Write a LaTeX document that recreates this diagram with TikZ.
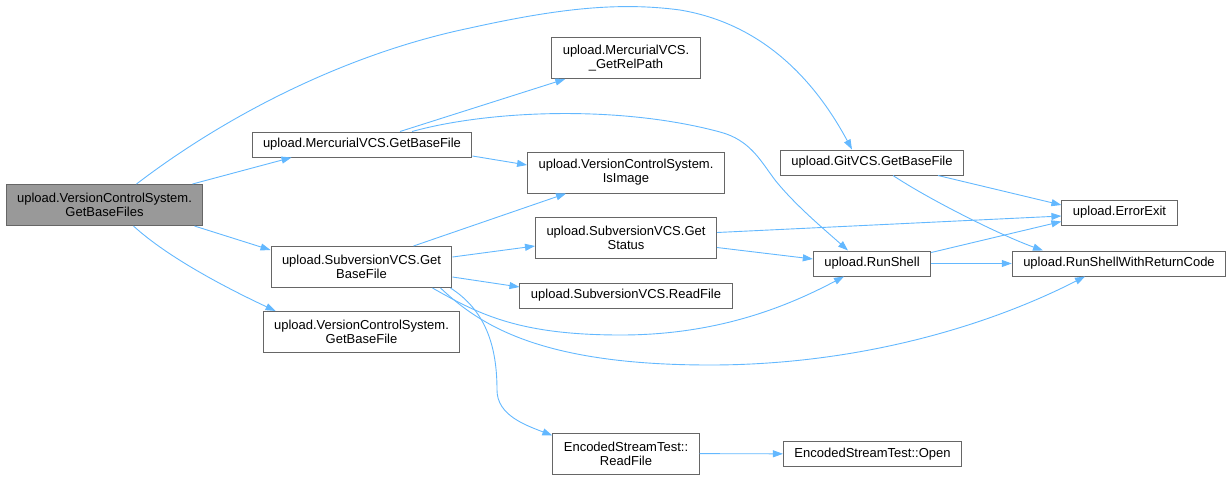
\documentclass[tikz,border=0pt]{standalone}
\usepackage{fontspec}
\setmainfont{Liberation Sans}
\usetikzlibrary{arrows.meta}

\definecolor{edgeblue}{HTML}{63B8FF}
\definecolor{boxgray}{HTML}{666666}
\definecolor{rootfill}{HTML}{999999}

\tikzset{
  fn/.style={rectangle, draw=boxgray, line width=1pt, fill=white, font=\fontsize{13}{14}\selectfont, align=center, inner xsep=11pt, inner ysep=2pt, minimum height=25pt},
  fntwo/.style={fn, minimum height=41pt},
  edge/.style={draw=edgeblue, line width=0.9pt, -{Triangle[length=10pt,width=7pt]}},
}

\begin{document}
\begin{tikzpicture}[x=1pt, y=-1pt]
  \useasboundingbox (0,0) rectangle (1231,480);

  \node[fntwo, fill=rootfill] (root) at (104.5,205) {upload.VersionControlSystem.\\GetBaseFiles};
  \node[fn] (merc) at (362,144.5) {upload.MercurialVCS.GetBaseFile};
  \node[fntwo] (svn) at (361.5,267) {upload.SubversionVCS.Get\\BaseFile};
  \node[fntwo] (vcsgbf) at (361.5,332) {upload.VersionControlSystem.\\GetBaseFile};
  \node[fntwo] (relpath) at (626,58) {upload.MercurialVCS.\\\_GetRelPath};
  \node[fntwo] (isimage) at (626,172.5) {upload.VersionControlSystem.\\IsImage};
  \node[fntwo] (status) at (626,237.5) {upload.SubversionVCS.Get\\Status};
  \node[fn] (readfile) at (626,295.5) {upload.SubversionVCS.ReadFile};
  \node[fntwo] (estread) at (626,453.5) {EncodedStreamTest::\\ReadFile};
  \node[fn] (git) at (872,162.5) {upload.GitVCS.GetBaseFile};
  \node[fn] (runshell) at (872,263.5) {upload.RunShell};
  \node[fn] (estopen) at (872.5,454) {EncodedStreamTest::Open};
  \node[fn] (errexit) at (1119.5,212.5) {upload.ErrorExit};
  \node[fn] (rswrc) at (1119,263.5) {upload.RunShellWithReturnCode};

  % calls from GetBaseFiles
  \draw[edge] ([xshift=32pt]root.north) .. controls (220,120) and (340,55) .. (470,28)
    .. controls (560,8) and (620,2) .. (680,10)
    .. controls (770,25) and (820,90) .. ([xshift=-20pt]git.north);
  \draw[edge] ([xshift=88pt]root.north) -- ([xshift=40pt]merc.south west);
  \draw[edge] ([xshift=-9pt]root.south east) -- ([yshift=17pt]svn.west);
  \draw[edge] ([xshift=29pt]root.south) .. controls (165,255) and (220,285) .. ([xshift=13pt]vcsgbf.north west);

  % MercurialVCS
  \draw[edge] ([xshift=38pt]merc.north) -- ([xshift=14pt]relpath.south west);
  \draw[edge] ([yshift=-11.5pt]merc.east) -- ([yshift=7.5pt]isimage.west);
  \draw[edge] ([xshift=50pt]merc.north) .. controls (490,110) and (620,105) .. (720,132)
    .. controls (750,140) and (760,160) .. (775,180)
    .. controls (795,205) and (825,230) .. ([xshift=-24pt]runshell.north);

  % SubversionVCS
  \draw[edge] ([xshift=52pt]svn.north) -- ([xshift=39pt]isimage.south west);
  \draw[edge] ([yshift=10pt]svn.east) -- ([yshift=-8.5pt]status.west);
  \draw[edge] ([yshift=-10pt]svn.east) -- ([yshift=8.5pt]readfile.west);
  \draw[edge] ([xshift=-20pt]svn.south east) .. controls (480,315) and (520,335) .. (621,335)
    .. controls (720,335) and (790,305) .. ([xshift=-28pt]runshell.south);
  \draw[edge] ([xshift=-12pt]svn.south east) .. controls (480,325) and (540,365) .. (710,365)
    .. controls (850,365) and (980,330) .. ([xshift=-34pt]rswrc.south);
  \draw[edge] ([xshift=-2pt]svn.south east) .. controls (485,310) and (497,345) .. (497,390)
    .. controls (497,415) and (525,425) .. ([yshift=-3pt]estread.north west);

  % the rest
  \draw[edge] ([yshift=5pt]status.east) -- ([yshift=-3.5pt]errexit.west);
  \draw[edge] ([yshift=-10pt]status.east) -- ([yshift=4.5pt]runshell.west);
  \draw[edge] ([xshift=66pt]git.south) -- ([yshift=7.5pt]errexit.west);
  \draw[edge] ([xshift=21pt]git.south) .. controls (930,200) and (1000,235) .. ([xshift=-76pt]rswrc.north);
  \draw[edge] ([yshift=11pt]runshell.east) -- ([yshift=-9pt]errexit.west);
  \draw[edge] (runshell) -- (rswrc);
  \draw[edge] (estread) -- (estopen);
\end{tikzpicture}
\end{document}
